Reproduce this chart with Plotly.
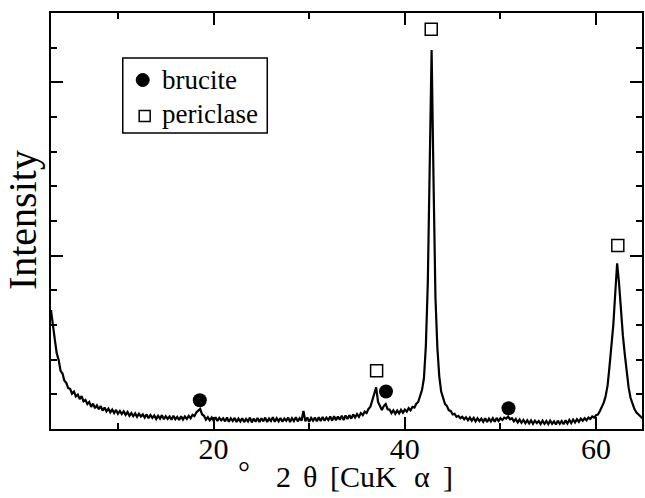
import numpy as np
import plotly.graph_objects as go

# XRD scan: 2-theta from 3.0 to 65.0 deg in 0.2 deg steps (CuK-alpha)
scan_start = 3.0
scan_step = 0.2
intensity = [
    343, 292, 258, 218, 199, 168, 160, 139, 133, 118,   # 3.0 - 4.8
    116, 102, 108, 94, 99, 86, 95, 80, 84, 72,          # 5.0 - 6.8
    78, 64, 73, 60, 68, 57, 66, 53, 62, 51,             # 7.0 - 8.8
    59, 48, 56, 46, 55, 44, 52, 43, 51, 41,             # 9.0 - 10.8
    49, 38, 46, 37, 45, 35, 44, 36, 42, 33,             # 11.0 - 12.8
    42, 31, 40, 32, 39, 29, 38, 30, 40, 28,             # 13.0 - 14.8
    37, 29, 36, 27, 38, 28, 35, 26, 37, 27,             # 15.0 - 16.8
    36, 29, 38, 31, 41, 37, 48, 53, 58, 42,             # 17.0 - 18.8
    38, 27, 34, 25, 33, 24, 34, 23, 32, 25,             # 19.0 - 20.8
    31, 22, 33, 21, 31, 23, 32, 20, 30, 22,             # 21.0 - 22.8
    31, 20, 29, 22, 33, 19, 30, 21, 32, 20,             # 23.0 - 24.8
    31, 22, 33, 20, 30, 23, 34, 21, 31, 22,             # 25.0 - 26.8
    32, 21, 30, 24, 33, 20, 31, 23, 34, 22,             # 27.0 - 28.8
    31, 24, 52, 22, 33, 21, 32, 24, 33, 22,             # 29.0 - 30.8
    34, 23, 35, 24, 33, 26, 36, 24, 37, 25,             # 31.0 - 32.8
    36, 27, 38, 26, 39, 29, 40, 30, 42, 33,             # 33.0 - 34.8
    43, 35, 46, 40, 50, 46, 58, 64, 84, 108,            # 35.0 - 36.8
    120, 78, 64, 55, 66, 72, 57, 56, 46, 54,            # 37.0 - 38.8
    44, 53, 45, 55, 47, 56, 50, 60, 54, 64,             # 39.0 - 40.8
    62, 73, 78, 97, 113, 147, 240, 420, 820, 1093,      # 41.0 - 42.8
    720, 380, 235, 152, 108, 92, 72, 66, 54, 52,        # 43.0 - 44.8
    42, 44, 35, 38, 31, 35, 28, 34, 25, 33,             # 45.0 - 46.8
    24, 32, 22, 31, 23, 30, 21, 31, 20, 30,             # 47.0 - 48.8
    22, 31, 21, 32, 23, 31, 26, 33, 30, 36,             # 49.0 - 50.8
    28, 31, 22, 29, 19, 27, 18, 26, 17, 25,             # 51.0 - 52.8
    16, 25, 15, 24, 17, 23, 14, 24, 15, 23,             # 53.0 - 54.8
    14, 24, 15, 22, 13, 24, 15, 23, 14, 25,             # 55.0 - 56.8
    16, 26, 17, 27, 19, 28, 21, 30, 24, 31,             # 57.0 - 58.8
    25, 33, 29, 36, 33, 40, 42, 52, 62, 76,             # 59.0 - 60.8
    95, 125, 180, 240, 300, 390, 478, 420, 340, 270,    # 61.0 - 62.8
    215, 160, 120, 90, 72, 58, 48, 42, 36, 32,          # 63.0 - 64.8
    30,                                                 # 65.0
]
two_theta = np.round(scan_start + scan_step * np.arange(len(intensity)), 1)

# Phase markers above the reflections
brucite_x = [18.56, 38.03, 50.84]
brucite_y = [83, 108, 60]
periclase_x = [37.05, 42.76, 62.27]
periclase_y = [168, 1153, 529]

x_ticks = [20, 40, 60]
x_tick_labels = ["20", "40", "60"]
legend_labels = ["brucite", "periclase"]

SERIF = "Liberation Serif, Times New Roman, serif"

# plot-area geometry in pixels (used for placing the legend box and titles)
W, H = 645, 498
L, R, T, B = 51, 1, 13, 69
PW, PH = W - L - R, H - T - B


def px_x(px):
    return (px - L) / PW


def px_y(py):
    return (H - B - py) / PH


fig = go.Figure()
fig.add_trace(go.Scatter(
    x=two_theta, y=intensity, mode="lines",
    line=dict(color="black", width=2.2),
    showlegend=False, hoverinfo="skip",
))
fig.add_trace(go.Scatter(
    x=brucite_x, y=brucite_y, mode="markers", name=legend_labels[0],
    marker=dict(symbol="circle", size=14, color="black"),
    showlegend=False,
))
fig.add_trace(go.Scatter(
    x=periclase_x, y=periclase_y, mode="markers", name=legend_labels[1],
    marker=dict(symbol="square-open", size=12, color="black",
                line=dict(width=1.5, color="black")),
    showlegend=False,
))

fig.update_layout(
    width=W, height=H,
    margin=dict(l=L, r=R, t=T, b=B),
    paper_bgcolor="white", plot_bgcolor="white",
    font=dict(family=SERIF, color="black"),
    showlegend=False,
)

fig.update_xaxes(
    range=[3, 64.8], showgrid=False, zeroline=False,
    showline=True, linecolor="black", linewidth=1.8, mirror="ticks",
    tickmode="array", tickvals=x_ticks, ticktext=x_tick_labels,
    ticks="inside", ticklen=12, tickwidth=1.5, tickcolor="black",
    tickfont=dict(family=SERIF, size=30, color="black"),
    ticklabelstandoff=-8,
    minor=dict(tickmode="linear", tick0=0, dtick=10, ticks="inside",
               ticklen=6, tickwidth=1.5, tickcolor="black"),
)
fig.update_yaxes(
    range=[0, 1200], showgrid=False, zeroline=False,
    showline=True, linecolor="black", linewidth=1.8, mirror="ticks",
    tickmode="linear", tick0=0, dtick=500, showticklabels=False,
    ticks="inside", ticklen=12, tickwidth=1.5, tickcolor="black",
    minor=dict(tickmode="linear", tick0=0, dtick=100, ticks="inside",
               ticklen=6, tickwidth=1.5, tickcolor="black"),
)

# Legend: framed box with a filled circle (brucite) and an open square (periclase)
fig.add_shape(type="rect", xref="paper", yref="paper",
              x0=px_x(123), x1=px_x(268), y0=px_y(133), y1=px_y(58),
              line=dict(color="black", width=1.5), fillcolor="white", layer="above")
fig.add_shape(type="circle", xref="paper", yref="paper",
              xsizemode="pixel", ysizemode="pixel",
              xanchor=px_x(143), yanchor=px_y(80),
              x0=-6.5, x1=6.5, y0=-6.5, y1=6.5,
              line=dict(color="black", width=1), fillcolor="black", layer="above")
fig.add_shape(type="rect", xref="paper", yref="paper",
              xsizemode="pixel", ysizemode="pixel",
              xanchor=px_x(145), yanchor=px_y(116),
              x0=-5.5, x1=5.5, y0=-5.5, y1=5.5,
              line=dict(color="black", width=1.5), fillcolor="white", layer="above")
for label, ypix in zip(legend_labels, [80, 114]):
    fig.add_annotation(
        text=label, showarrow=False, xref="paper", yref="paper",
        x=px_x(160), y=px_y(ypix), xanchor="left", yanchor="middle",
        font=dict(family=SERIF, size=27, color="black"),
    )

# Axis titles
fig.add_annotation(
    text="Intensity", textangle=-90, showarrow=False,
    xref="paper", yref="paper", x=px_x(22), y=px_y(220),
    xanchor="center", yanchor="middle",
    font=dict(family=SERIF, size=40, color="black"),
)
fig.add_annotation(
    text="°", showarrow=False,
    xref="paper", yref="paper", x=px_x(245), y=px_y(471),
    xanchor="center", yanchor="middle",
    font=dict(family=SERIF, size=30, color="black"),
)
title_parts = [("2", 284, "center"), ("θ", 311, "center"), ("[CuK", 329, "left"),
               ("α", 423, "center"), ("]", 449, "center")]
for part, xpix, anchor in title_parts:
    fig.add_annotation(
        text=part, showarrow=False,
        xref="paper", yref="paper", x=px_x(xpix), y=px_y(476),
        xanchor=anchor, yanchor="middle",
        font=dict(family=SERIF, size=30, color="black"),
    )

fig.write_html("out.html")
